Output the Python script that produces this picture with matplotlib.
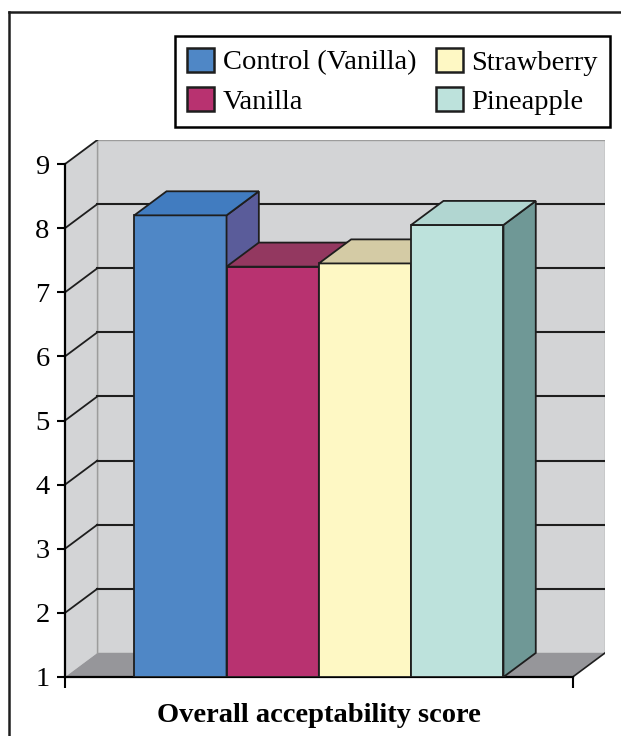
import matplotlib
matplotlib.use("Agg")
import matplotlib.pyplot as plt
from matplotlib.patches import Polygon, Patch
from matplotlib.lines import Line2D

#
# Data
#
categories = ["Control (Vanilla)", "Vanilla", "Strawberry", "Pineapple"]
scores = [8.2, 7.4, 7.45, 8.05]
y_ticks = [1, 2, 3, 4, 5, 6, 7, 8, 9]
x_label = "Overall acceptability score"

# face colours of each 3-D column
front_colors = ["#4F87C6", "#B83270", "#FEF8C4", "#BDE2DC"]
top_colors = ["#417CC0", "#933860", "#D4CBA5", "#B1D6D1"]
side_colors = ["#5A5C9A", "#7A2550", "#B8AE82", "#6F9896"]

#
# Geometry of the fake 3-D box (data units)
#
BASE = y_ticks[0]
TOP = y_ticks[-1]
MARGIN = 0.75
WIDTH = 1.0
DX = 0.35
DY = 0.375
floor_w = 2 * MARGIN + len(categories) * WIDTH

WALL = "#D3D4D6"
FLOOR = "#96969A"
EDGE = "#1E1E1E"

plt.rcParams['font.family'] = ['Liberation Serif', 'DejaVu Serif']

fig = plt.figure(figsize=(6.21, 7.36), dpi=100)
ax = fig.add_axes([65 / 621, 1 - 677 / 736, 540 / 621, 537 / 736])
ax.set_xlim(0, floor_w + DX)
ax.set_ylim(BASE, TOP + DY)
ax.set_facecolor("none")

# Walls and floor
ax.add_patch(Polygon([(DX, BASE + DY), (floor_w + DX, BASE + DY), (floor_w + DX, TOP + DY), (DX, TOP + DY)],
                     closed=True, fc=WALL, ec="#9C9C9C", lw=1.0, zorder=0))
ax.add_patch(Polygon([(0, BASE), (DX, BASE + DY), (DX, TOP + DY), (0, TOP)],
                     closed=True, fc=WALL, ec="none", zorder=0))
ax.add_patch(Polygon([(0, BASE), (DX, BASE + DY), (floor_w + DX, BASE + DY), (floor_w, BASE)],
                     closed=True, fc=FLOOR, ec="none", zorder=1))
ax.plot([DX, DX], [BASE + DY, TOP + DY], color="#9C9C9C", lw=1.0, zorder=1)
ax.plot([floor_w, floor_w + DX], [BASE, BASE + DY], color=EDGE, lw=1.2, zorder=1)

# Gridlines on the back and left walls
for v in y_ticks[1:]:
    ax.plot([0, DX], [v, v + DY], color=EDGE, lw=1.3, zorder=1)
    if v < TOP:
        ax.plot([DX, floor_w + DX], [v + DY, v + DY], color=EDGE, lw=1.5, zorder=1)

# Columns: front face, then top and side
x0s = [MARGIN + i * WIDTH for i in range(len(categories))]
heights = [s - BASE for s in scores]
bars = ax.bar(x0s, heights, bottom=BASE, width=WIDTH, align="edge",
              color=front_colors, edgecolor=EDGE, linewidth=1.3)
for i, (x0, s) in enumerate(zip(x0s, scores)):
    bars[i].set_zorder(3 + i)
    side = Polygon([(x0 + WIDTH, BASE), (x0 + WIDTH + DX, BASE + DY), (x0 + WIDTH + DX, s + DY), (x0 + WIDTH, s)],
                   closed=True, fc=side_colors[i], ec=EDGE, lw=1.3, zorder=3 + i)
    top = Polygon([(x0, s), (x0 + WIDTH, s), (x0 + WIDTH + DX, s + DY), (x0 + DX, s + DY)],
                  closed=True, fc=top_colors[i], ec=EDGE, lw=1.3, zorder=3 + i)
    ax.add_patch(side)
    ax.add_patch(top)

# Axes
for sp in ["top", "right"]:
    ax.spines[sp].set_visible(False)
ax.spines["left"].set_bounds(BASE, TOP)
ax.spines["bottom"].set_bounds(0, floor_w)
ax.spines["left"].set_linewidth(1.6)
ax.spines["bottom"].set_linewidth(1.6)
ax.spines["left"].set_zorder(2)
ax.spines["bottom"].set_zorder(2)
ax.set_yticks(y_ticks)
ax.set_yticklabels([str(t) for t in y_ticks])
ax.set_xticks([0, floor_w])
ax.set_xticklabels(["", ""])
ax.tick_params(axis="y", direction="out", length=6, width=1.5, labelsize=20.5, pad=5)
ax.tick_params(axis="x", direction="out", length=8, width=1.5)

fig.text(319 / 621, 1 - 715 / 736, x_label, ha="center", va="center",
         fontsize=20.5, fontweight="bold")

# Legend
handles = [Patch(fc=c, ec=EDGE, lw=1.8) for c in front_colors]
leg = fig.legend(handles, categories, ncol=2, loc="upper right",
                 bbox_to_anchor=(610 / 621, 1 - 36 / 736), frameon=True, fancybox=False,
                 edgecolor="black", framealpha=1, fontsize=20.5,
                 handlelength=0.95, handleheight=0.9, handletextpad=0.3,
                 columnspacing=0.7, labelspacing=0.4, borderpad=0.42, borderaxespad=0)
leg.get_frame().set_linewidth(1.8)

# Outer frame (only top and left edges are in view)
fig.add_artist(Line2D([9 / 621, 1], [1 - 12 / 736, 1 - 12 / 736], transform=fig.transFigure, color=EDGE, lw=1.8))
fig.add_artist(Line2D([9 / 621, 9 / 621], [1 - 12 / 736, 0], transform=fig.transFigure, color=EDGE, lw=1.8))

fig.savefig("out.png", dpi=100)
